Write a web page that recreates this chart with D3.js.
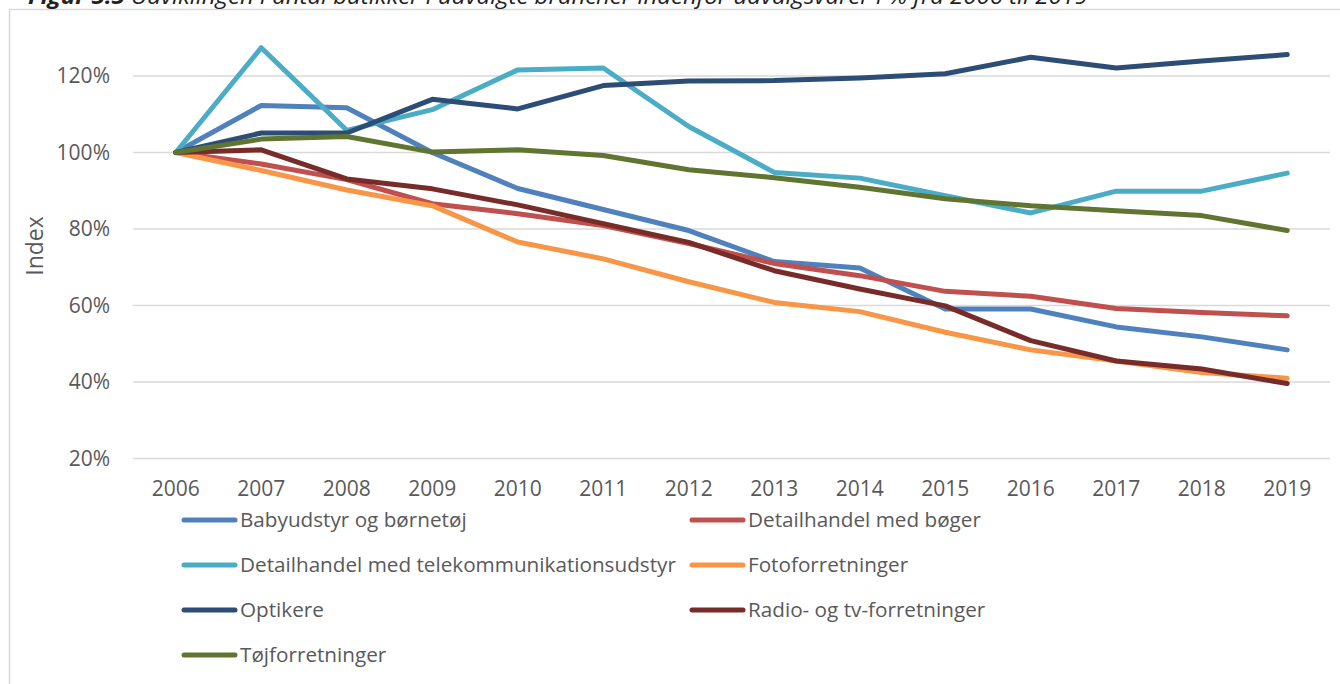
<!DOCTYPE html>
<html>
<head>
<meta charset="utf-8">
<script src="https://cdn.jsdelivr.net/npm/d3@7"></script>
<style>
  html, body { margin: 0; padding: 0; background: #fff; }
  svg { display: block; }
  text { font-family: "Open Sans", "Noto Sans", sans-serif; }
</style>
</head>
<body>
<svg id="chart" width="1340" height="684"></svg>
<script>
// Years on the category axis
const years = ["2006","2007","2008","2009","2010","2011","2012","2013","2014","2015","2016","2017","2018","2019"];

// Index values (2006 = 100 %)
const babyudstyr = [100, 112.3, 111.7, 100.0, 90.6, 85.1, 79.6, 71.5, 69.8, 59.1, 59.1, 54.4, 51.8, 48.4];
const boger      = [100, 97.0, 92.9, 86.6, 84.0, 80.9, 76.2, 71.0, 67.8, 63.7, 62.4, 59.2, 58.2, 57.3];
const telekom    = [100, 127.4, 105.8, 111.2, 121.6, 122.1, 106.8, 94.8, 93.3, 88.7, 84.2, 89.9, 89.9, 94.6];
const foto       = [100, 95.3, 90.2, 86.1, 76.6, 72.2, 66.2, 60.8, 58.4, 53.0, 48.4, 45.5, 42.5, 41.0];
const optikere   = [100, 105.1, 105.1, 113.9, 111.4, 117.5, 118.7, 118.8, 119.5, 120.6, 124.9, 122.1, 123.9, 125.6];
const radioTv    = [100, 100.7, 93.1, 90.5, 86.3, 81.4, 76.5, 69.1, 64.3, 59.9, 50.8, 45.5, 43.4, 39.6];
const tojforr    = [100, 103.5, 104.2, 100.1, 100.7, 99.2, 95.5, 93.4, 90.9, 87.9, 86.1, 84.8, 83.5, 79.6];

const seriesNames  = ["Babyudstyr og børnetøj", "Detailhandel med bøger", "Detailhandel med telekommunikationsudstyr",
                      "Fotoforretninger", "Optikere", "Radio- og tv-forretninger", "Tøjforretninger"];
const seriesValues = [babyudstyr, boger, telekom, foto, optikere, radioTv, tojforr];
const seriesColors = ["#4f81bd", "#c0504d", "#4bacc6", "#f79646", "#2c4d75", "#772c2a", "#5f7530"];

// Value-axis ticks
const yTicks = [20, 40, 60, 80, 100, 120];

const svg = d3.select("#chart");
const textColor = "#595959";
const gridColor = "#d9d9d9";

// Outer chart frame
svg.append("rect")
  .attr("x", 9.5).attr("y", 9.5)
  .attr("width", 1400).attr("height", 800)
  .attr("fill", "none").attr("stroke", gridColor).attr("stroke-width", 1.5);

// Caption above the frame
const title = svg.append("text")
  .attr("x", 28).attr("y", 4)
  .attr("font-size", 22).attr("font-style", "italic").attr("fill", "#222")
  .attr("textLength", 1060).attr("lengthAdjust", "spacingAndGlyphs");
title.append("tspan").attr("font-weight", "bold").text("Figur 5.5");
title.append("tspan").text(" Udviklingen i antal butikker i udvalgte brancher indenfor udvalgsvarer i % fra 2006 til 2019");

// Scales
const x = d3.scaleBand().domain(years).range([133, 1330]);
const xc = d => x(d) + x.bandwidth() / 2;
const y = d3.scaleLinear().domain([20, 140]).range([458.5, -0.5]);

// Gridlines
svg.append("g")
  .selectAll("line")
  .data(yTicks)
  .join("line")
  .attr("x1", 133).attr("x2", 1330)
  .attr("y1", d => y(d)).attr("y2", d => y(d))
  .attr("stroke", gridColor).attr("stroke-width", 1.5);

// Value axis
const yAxis = svg.append("g")
  .attr("transform", "translate(110,0)")
  .call(d3.axisLeft(y).tickValues(yTicks).tickSize(0).tickPadding(0).tickFormat(d => d + "%"));
yAxis.select(".domain").remove();
yAxis.selectAll("text").attr("font-size", 21).attr("fill", textColor)
  .attr("font-family", "'Open Sans', sans-serif");

// Category axis
const xAxis = svg.append("g")
  .attr("transform", "translate(0,481)")
  .call(d3.axisBottom(x).tickSize(0).tickPadding(0));
xAxis.select(".domain").remove();
xAxis.selectAll("text").attr("font-size", 21).attr("fill", textColor)
  .attr("font-family", "'Open Sans', sans-serif");

// Axis title
svg.append("text")
  .attr("transform", "translate(43,246) rotate(-90)")
  .attr("text-anchor", "middle")
  .attr("font-size", 23).attr("fill", textColor)
  .text("Index");

// Lines
const line = d3.line()
  .x((d, i) => xc(years[i]))
  .y(d => y(d));

svg.append("g")
  .selectAll("path")
  .data(seriesValues)
  .join("path")
  .attr("d", d => line(d))
  .attr("fill", "none")
  .attr("stroke", (d, i) => seriesColors[i])
  .attr("stroke-width", 5)
  .attr("stroke-linejoin", "round")
  .attr("stroke-linecap", "round");

// Legend (two columns)
const legendCols = [182, 690];
const legendRows = [520, 565, 610, 655];
const legend = svg.append("g")
  .selectAll("g")
  .data(seriesNames)
  .join("g")
  .attr("transform", (d, i) => `translate(${legendCols[i % 2]},${legendRows[Math.floor(i / 2)]})`);
legend.append("line")
  .attr("x1", 2).attr("x2", 53)
  .attr("stroke", (d, i) => seriesColors[i])
  .attr("stroke-width", 5).attr("stroke-linecap", "round");
legend.append("text")
  .attr("x", 58).attr("dy", "0.35em")
  .attr("font-size", 20.7).attr("fill", textColor)
  .text(d => d);
</script>
</body>
</html>
